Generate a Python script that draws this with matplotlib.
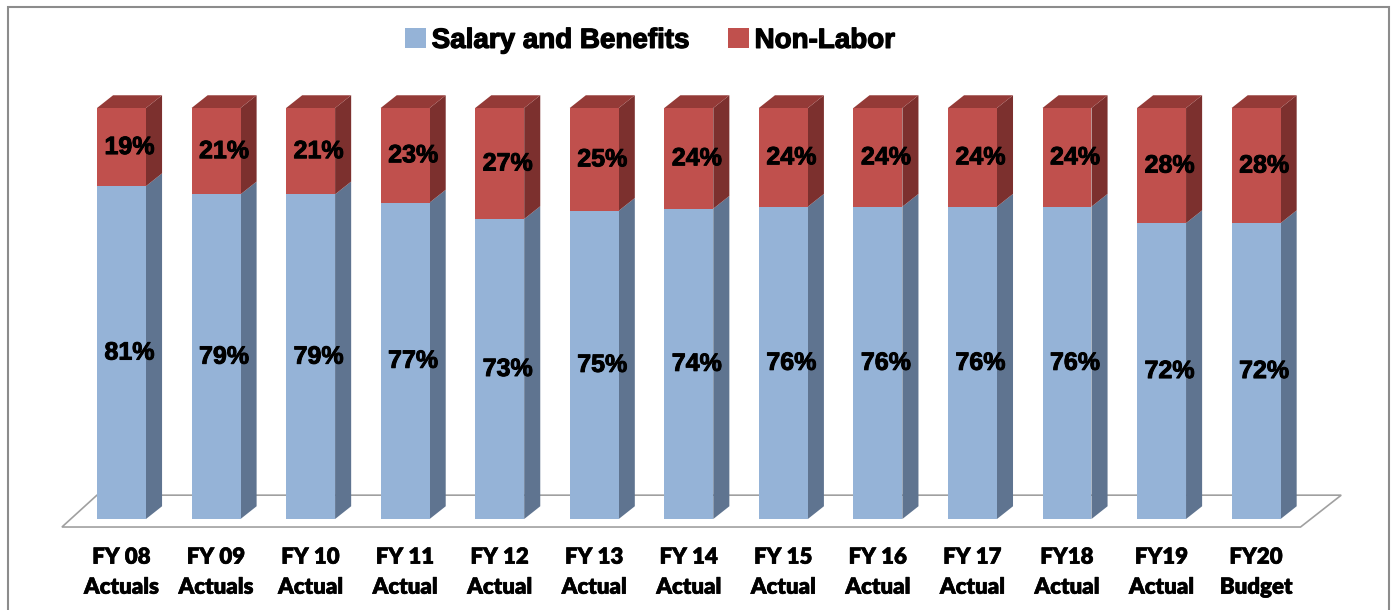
import matplotlib.pyplot as plt
import matplotlib.patheffects as pe
from matplotlib.patches import Polygon, Rectangle
import numpy as np

years = ["FY 08", "FY 09", "FY 10", "FY 11", "FY 12", "FY 13", "FY 14",
         "FY 15", "FY 16", "FY 17", "FY18", "FY19", "FY20"]
kinds = ["Actuals", "Actuals", "Actual", "Actual", "Actual", "Actual", "Actual",
         "Actual", "Actual", "Actual", "Actual", "Actual", "Budget"]
salary = [81, 79, 79, 77, 73, 75, 74, 76, 76, 76, 76, 72, 72]
non_labor = [19, 21, 21, 23, 27, 25, 24, 24, 24, 24, 24, 28, 28]

blue, blue_side = "#95B3D7", "#5F7490"
red, red_side, red_top = "#C0504D", "#7C302E", "#943A37"

# 100% stacked shares
tot = np.array(salary) + np.array(non_labor)
sal_h = np.array(salary) / tot * 100
non_h = np.array(non_labor) / tot * 100

fig = plt.figure(figsize=(13.95, 6.1), dpi=100)
ax = fig.add_axes([0, 0, 1, 1])
ax.set_xlim(-1.285, 13.469)
ax.set_ylim(-22.14, 126.28)
ax.axis("off")

x = np.arange(len(years))
w = 0.518
dx, dy = 0.17, 3.1
bold = [pe.withStroke(linewidth=0.7, foreground="black")]
bold_thin = [pe.withStroke(linewidth=0.4, foreground="black")]

# floor
floor = Polygon([(-0.63, -1.95), (x[-1] + 0.47, -1.95), (x[-1] + 0.9, 5.8), (-0.26, 5.8)],
                closed=True, facecolor="white", edgecolor="#A0A0A0", lw=1.2, zorder=1)
ax.add_patch(floor)

b1 = ax.bar(x, sal_h, w, color=blue, zorder=3, label="Salary and Benefits")
b2 = ax.bar(x, non_h, w, bottom=sal_h, color=red, zorder=3, label="Non-Labor")

for i in range(len(x)):
    right = x[i] + w / 2
    left = x[i] - w / 2
    s = sal_h[i]
    top = s + non_h[i]
    ax.add_patch(Polygon([(right, 0), (right + dx, dy), (right + dx, s + dy),
                          (right, s)], facecolor=blue_side, edgecolor="none", zorder=2))
    ax.add_patch(Polygon([(right, s), (right + dx, s + dy),
                          (right + dx, top + dy), (right, top)],
                         facecolor=red_side, edgecolor="none", zorder=2))
    ax.add_patch(Polygon([(left, top), (left + dx, top + dy), (right + dx, top + dy),
                          (right, top)], facecolor=red_top, edgecolor="none", zorder=2))
    ax.text(x[i] + dx / 2, s / 2, f"{salary[i]}%", ha="center", va="center",
            fontsize=18, fontweight="bold", family="Liberation Sans", zorder=5,
            path_effects=bold)
    ax.text(x[i] + dx / 2, s + non_h[i] / 2, f"{non_labor[i]}%", ha="center",
            va="center", fontsize=18, fontweight="bold", family="Liberation Sans", zorder=5,
            path_effects=bold)
    ax.text(x[i], -9.3, years[i], ha="center", va="center", fontsize=16,
            fontweight="heavy", family="Lato", path_effects=bold_thin)
    ax.text(x[i], -16.6, kinds[i], ha="center", va="center", fontsize=16,
            fontweight="heavy", family="Lato", path_effects=bold_thin)

leg = fig.legend(handles=[b1, b2], loc="center", bbox_to_anchor=(0.466, 0.933), ncol=2,
                 frameon=False, handlelength=0.75, handleheight=0.75, handletextpad=0.2,
                 columnspacing=1.4,
                 prop={"family": "Liberation Sans", "weight": "bold", "size": 20})
for t in leg.get_texts():
    t.set_path_effects([pe.withStroke(linewidth=0.9, foreground="black")])

fig.patches.append(Rectangle((8 / 1395, -0.01), 1381 / 1395, 1 - 7 / 610 + 0.01,
                             transform=fig.transFigure, fill=False, edgecolor="#8C8C8C",
                             lw=1.5))

fig.savefig("out.png", dpi=100)
